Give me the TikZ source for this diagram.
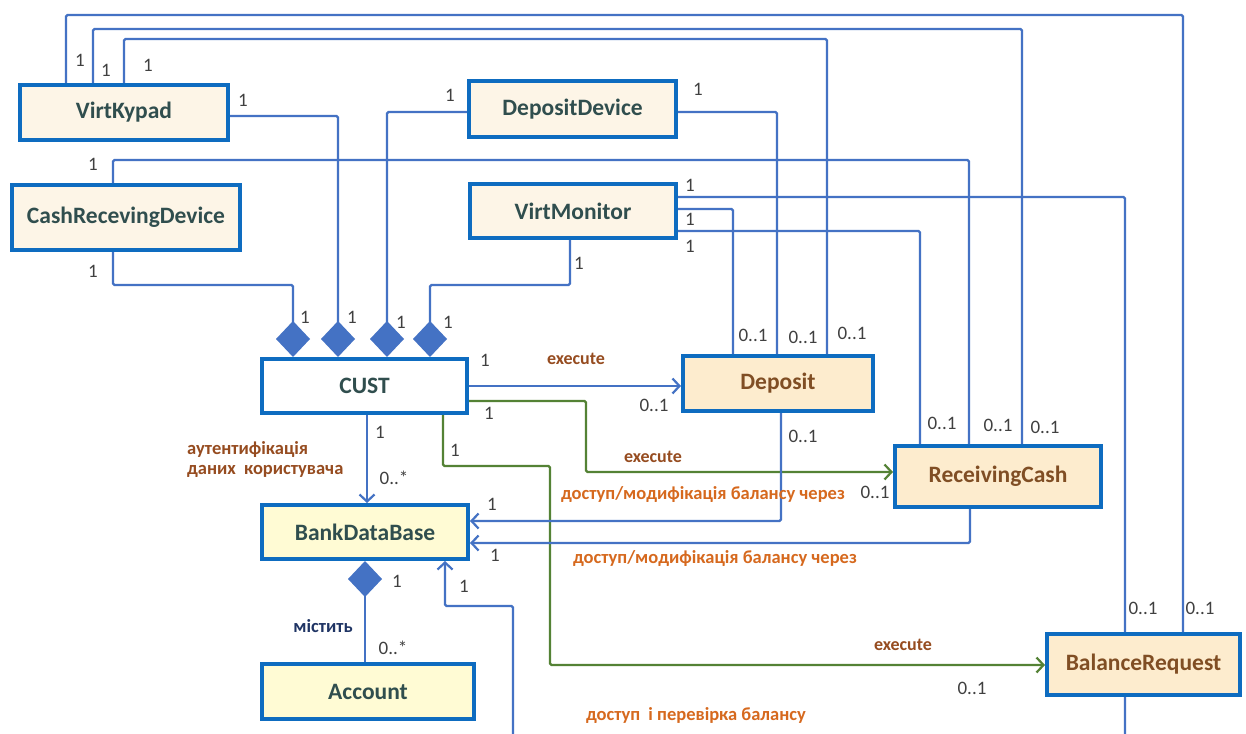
\documentclass[tikz,border=0pt]{standalone}
\usepackage{fontspec}
\setmainfont{Carlito}
\usetikzlibrary{arrows.meta}

\definecolor{lineblue}{RGB}{68,114,196}
\definecolor{boxblue}{RGB}{14,108,192}
\definecolor{callgreen}{RGB}{84,130,53}
\definecolor{creamfill}{RGB}{253,245,231}
\definecolor{peachfill}{RGB}{253,236,206}
\definecolor{paleyellow}{RGB}{255,251,212}
\definecolor{slatetext}{RGB}{48,78,78}
\definecolor{browntext}{RGB}{128,78,36}
\definecolor{multgrey}{RGB}{64,64,64}
\definecolor{relorange}{RGB}{214,105,30}
\definecolor{relbrown}{RGB}{150,76,32}
\definecolor{navytext}{RGB}{31,52,100}

\tikzset{
  cls/.style={draw=boxblue, line width=4pt, inner sep=0pt,
    font=\bfseries\fontsize{23.5}{26}\selectfont},
  devbox/.style={cls, fill=creamfill, text=slatetext},
  custbox/.style={cls, fill=white, text=slatetext},
  actbox/.style={cls, fill=peachfill, text=browntext},
  databox/.style={cls, fill=paleyellow, text=slatetext},
  assoc/.style={draw=lineblue, line width=2.2pt, rounded corners=1.5pt},
  callline/.style={draw=callgreen, line width=2.2pt, rounded corners=1.5pt},
  opentip/.style={-{Straight Barb[length=7pt,width=15pt]}},
  compo/.style={{Diamond[length=36pt,width=34pt,fill=lineblue]}-},
  mult/.style={font=\fontsize{19}{21}\selectfont, text=multgrey, inner sep=0pt},
  rel/.style={font=\bfseries\fontsize{18.5}{20}\selectfont, text=relorange, inner sep=0pt},
  exec/.style={font=\bfseries\fontsize{18}{20}\selectfont, text=relbrown, inner sep=0pt},
}

\begin{document}
\begin{tikzpicture}[x=1pt, y=-1pt]
\useasboundingbox (0,0) rectangle (1246,733);
\fill[white] (0,0) rectangle (1246,733);
\clip (0,0) rectangle (1246,733);

% classes
\node[devbox, minimum width=208, minimum height=55] (vk)  at (124,112.5) {VirtKypad};
\node[devbox, minimum width=228, minimum height=65] (crd) at (126,217.5) {CashRecevingDevice};
\node[devbox, minimum width=207, minimum height=56] (dd)  at (572.5,109) {DepositDevice};
\node[devbox, minimum width=206, minimum height=54] (vm)  at (573,211) {VirtMonitor};
\node[custbox, minimum width=205, minimum height=54] (cust) at (364.5,386) {CUST};
\node[actbox, minimum width=190, minimum height=55] (dep) at (778,383.5) {Deposit};
\node[actbox, minimum width=206, minimum height=61] (rc)  at (998,476.5) {ReceivingCash};
\node[databox, minimum width=206, minimum height=54] (bdb) at (365,532) {BankDataBase};
\node[databox, minimum width=212, minimum height=55] (acc) at (368,691.5) {Account};
\node[actbox, minimum width=193, minimum height=61] (brq) at (1143.5,664.5) {BalanceRequest};

% associations leaving VirtKypad over the top
\draw[assoc] (vk.north -| 66,0) |- (1183,15) -- (brq.north -| 1183,0);
\draw[assoc] (vk.north -| 93,0) |- (1022,29) -- (rc.north -| 1022,0);
\draw[assoc] (vk.north -| 124,0) |- (827,39) -- (dep.north -| 827,0);
% CashRecevingDevice to ReceivingCash
\draw[assoc] (crd.north -| 113,0) |- (969,160) -- (rc.north -| 969,0);
% VirtMonitor to the transactions
\draw[assoc] (vm.east |- 0,197) -| (brq.north -| 1125,0);
\draw[assoc] (vm.east |- 0,209) -| (dep.north -| 733,0);
\draw[assoc] (vm.east |- 0,231) -| (rc.north -| 920,0);
% DepositDevice to Deposit
\draw[assoc] (dd.east |- 0,112) -| (dep.north -| 777,0);

% compositions of CUST
\draw[assoc, compo] (cust.north -| 293,0) -- (293,285) -| (crd.south -| 113,0);
\draw[assoc, compo] (cust.north -| 338,0) |- (vk.east |- 0,116);
\draw[assoc, compo] (cust.north -| 387,0) |- (dd.west |- 0,112);
\draw[assoc, compo] (cust.north -| 430,0) -- (430,285) -| (vm.south -| 570,0);

% CUST executes transactions
\draw[assoc, opentip] (cust.east |- 0,386) -- (dep.west |- 0,386);
\draw[callline, opentip] (cust.east |- 0,401) -| (586,472) -- (rc.west |- 0,472);
\draw[callline, opentip] (cust.south -| 443,0) |- (550,466) |- (brq.west |- 0,665);

% access to the bank data base
\draw[assoc, opentip] (cust.south -| 367,0) -- (bdb.north -| 367,0);
\draw[assoc, opentip] (dep.south -| 781,0) |- (bdb.east |- 0,521);
\draw[assoc, opentip] (rc.south -| 970,0) |- (bdb.east |- 0,543);
\draw[assoc, opentip] (brq.south -| 1125,0) -- (1125,760) -| (513,606) -| (bdb.south -| 445,0);

% BankDataBase contains accounts
\draw[assoc, compo] (bdb.south -| 365,0) -- (acc.north -| 365,0);

% multiplicities
\node[mult] (m01) at (80,60) {1};
\node[mult] (m02) at (106,70) {1};
\node[mult] (m03) at (148,65) {1};
\node[mult] (m04) at (243,100) {1};
\node[mult] (m05) at (93,164) {1};
\node[mult] (m06) at (93,271) {1};
\node[mult] (m07) at (450,95) {1};
\node[mult] (m08) at (698,89) {1};
\node[mult] (m09) at (690,185) {1};
\node[mult] (m10) at (690,219) {1};
\node[mult] (m11) at (690,246) {1};
\node[mult] (m12) at (579,263) {1};
\node[mult] (m13) at (305,317) {1};
\node[mult] (m14) at (352,317) {1};
\node[mult] (m15) at (401,322) {1};
\node[mult] (m16) at (448,322) {1};
\node[mult] (m17) at (485,360) {1};
\node[mult] (m18) at (489,413) {1};
\node[mult] (m19) at (455,450) {1};
\node[mult] (m20) at (380,432) {1};
\node[mult] (m21) at (394,478) {0..*};
\node[mult] (m22) at (654,405) {0..1};
\node[mult] (m23) at (753,335) {0..1};
\node[mult] (m24) at (803,337) {0..1};
\node[mult] (m25) at (852,333) {0..1};
\node[mult] (m26) at (803,436) {0..1};
\node[mult] (m27) at (942,423) {0..1};
\node[mult] (m28) at (998,425) {0..1};
\node[mult] (m29) at (1045,427) {0..1};
\node[mult] (m30) at (875,492) {0..1};
\node[mult] (m31) at (492,504) {1};
\node[mult] (m32) at (495,555) {1};
\node[mult] (m33) at (397,581) {1};
\node[mult] (m34) at (464,586) {1};
\node[mult] (m35) at (393,648) {0..*};
\node[mult] (m36) at (972,688) {0..1};
\node[mult] (m37) at (1143,608) {0..1};
\node[mult] (m38) at (1200,608) {0..1};

% association names
\node[exec] (e1) at (576,359) {execute};
\node[exec] (e2) at (653,457) {execute};
\node[exec] (e3) at (903,645) {execute};
\node[rel, anchor=west, align=left, text=relbrown] (auth) at (187,459)
  {аутентифікація\\даних\hspace{4pt} користувача};
\node[rel] (acc1) at (703,494) {доступ/модифікація балансу через};
\node[rel] (acc2) at (715,558) {доступ/модифікація балансу через};
\node[rel] (acc3) at (696,715) {доступ\hspace{4pt} і перевірка балансу};
\node[rel, text=navytext] (cont) at (323,626) {містить};
\end{tikzpicture}
\end{document}
